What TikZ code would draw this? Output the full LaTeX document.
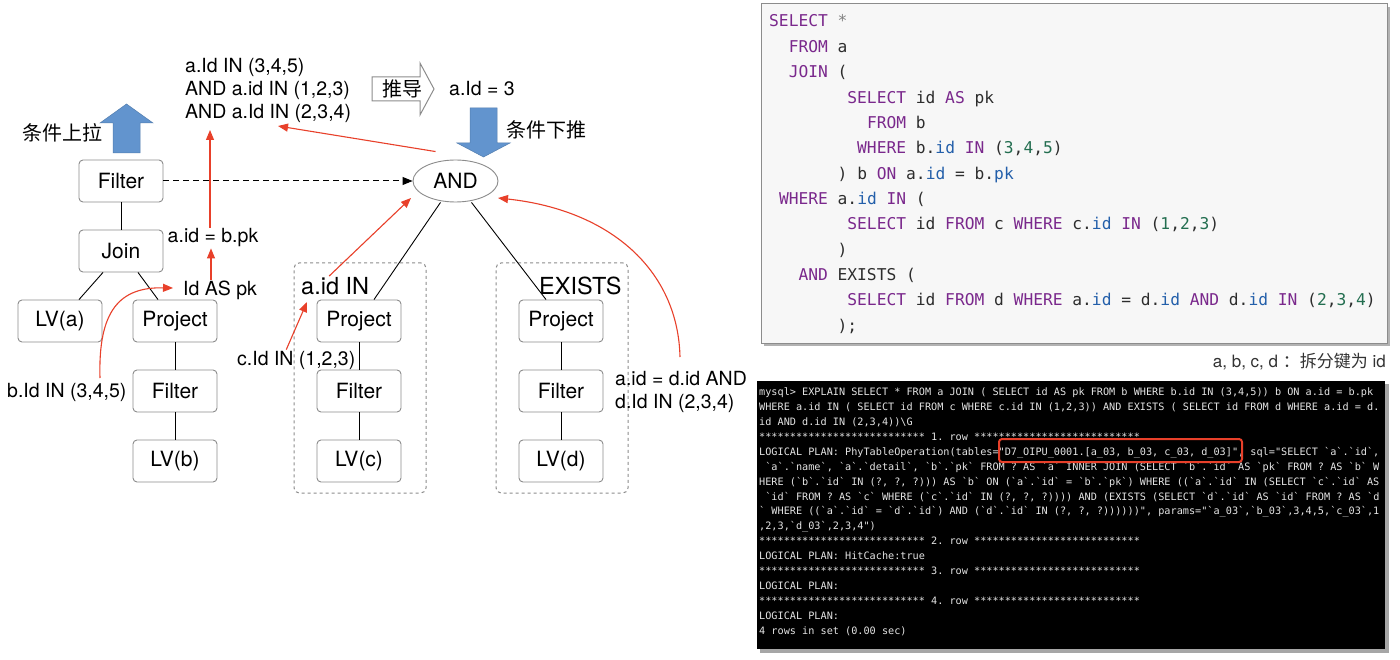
\documentclass[tikz,border=0pt]{standalone}
\usepackage{fontspec}
\setmainfont{TeX Gyre Heros}
\newfontfamily\cjk{Noto Sans CJK SC}
\newfontfamily\mono{DejaVu Sans Mono}
\usetikzlibrary{arrows.meta,shapes.geometric}
\definecolor{redc}{RGB}{232,64,42}
\definecolor{bluea}{RGB}{98,148,206}
\definecolor{boxc}{RGB}{140,140,140}
\definecolor{kwc}{RGB}{122,40,140}
\definecolor{prc}{RGB}{35,95,170}
\definecolor{numc}{RGB}{35,110,80}
\definecolor{plainc}{RGB}{45,45,45}
\definecolor{termc}{RGB}{228,228,228}
\definecolor{panelc}{RGB}{247,247,247}
\newcommand\sqlkw[1]{\textcolor{kwc}{#1}}
\newcommand\sqlpr[1]{\textcolor{prc}{#1}}
\newcommand\sqlnum[1]{\textcolor{numc}{#1}}
\frenchspacing
\tikzset{
  lbl/.style={inner sep=1pt, font=\fontsize{19.5}{23}\selectfont},
  big/.style={inner sep=1pt, font=\fontsize{23.5}{27}\selectfont},
  cjklbl/.style={inner sep=1pt, font=\cjk\fontsize{20}{24}\selectfont},
  box/.style={draw=boxc, line width=0.9pt, rounded corners=4pt, fill=white,
    minimum width=84pt, minimum height=42pt, inner sep=0pt,
    font=\fontsize{21}{25}\selectfont},
  grp/.style={draw=boxc, dashed, line width=1pt, rounded corners=5pt,
    minimum width=132pt, minimum height=230pt, inner sep=0pt},
  link/.style={draw=black, line width=0.9pt},
  redarr/.style={draw=redc, line width=1.1pt, -{Triangle[length=10pt,width=8pt]}},
  code/.style={inner sep=0pt, anchor=base west, text=plainc,
    font=\mono\fontsize{16.25}{18}\selectfont},
  term/.style={inner sep=0pt, anchor=base west, text=termc,
    font=\mono\fontsize{10.2}{12}\selectfont},
}
\begin{document}
\begin{tikzpicture}[x=1pt,y=-1pt]
\useasboundingbox (0,0) rectangle (1400,660);
\fill[white] (0,0) rectangle (1400,660);

% ---------- left plan tree ----------
\node[box] (f1) at (121,181) {Filter};
\node[box] (join) at (121,251) {Join};
\node[box] (lva) at (60,321) {LV(a)};
\node[box] (pb) at (175,321) {Project};
\node[box] (fb) at (175,391) {Filter};
\node[box] (lvb) at (175,461) {LV(b)};
\draw[link] (f1) -- (join);
\draw[link] ([xshift=-18pt]join.south) -- ([xshift=19pt]lva.north);
\draw[link] ([xshift=17pt]join.south) -- ([xshift=-17pt]pb.north);
\draw[link] (pb) -- (fb);
\draw[link] (fb) -- (lvb);

% up arrow
\filldraw[fill=bluea, draw=bluea!85!black, line width=0.5pt]
  (113,153) -- (113,123) -- (100,123) -- (126.5,104) -- (153,123) -- (140,123) -- (140,153) -- cycle;
\node[cjklbl] (up) at (63,133) {条件上拉};

% ---------- AND tree ----------
\node[ellipse, draw=boxc, line width=0.9pt, fill=white, minimum width=85pt, minimum height=42pt,
  inner sep=0pt, font=\fontsize{21}{25}\selectfont] (and) at (455.5,181) {AND};
\draw[black, dashed, line width=1pt, dash pattern=on 6pt off 4pt,
  -{Triangle[length=10pt,width=8pt]}] (f1) -- (and);

\node[grp] (gc) at (360,378) {};
\node[grp] (gd) at (562,378) {};
\node[box] (pc) at (359,321) {Project};
\node[box] (fc) at (359,391) {Filter};
\node[box] (lvc) at (359,461) {LV(c)};
\node[box] (pd) at (561,321) {Project};
\node[box] (fd) at (561,391) {Filter};
\node[box] (lvd) at (561,461) {LV(d)};
\draw[link] (pc) -- (fc);
\draw[link] (fc) -- (lvc);
\draw[link] (pd) -- (fd);
\draw[link] (fd) -- (lvd);
\draw[link] ([xshift=-15pt]and.south) -- ([xshift=15pt]pc.north);
\draw[link] ([xshift=16pt]and.south) -- ([xshift=-15pt]pd.north);
\node[big, anchor=west] (aidin) at (300,286) {a.id IN};
\node[big, anchor=west] (exists) at (538,286) {EXISTS};

% down arrow and derive arrow
\filldraw[fill=bluea, draw=bluea!85!black, line width=0.5pt]
  (470,108) -- (497,108) -- (497,143) -- (510,143) -- (483.5,157) -- (457,143) -- (470,143) -- cycle;
\node[cjklbl, anchor=west] (down) at (505,130) {条件下推};
\draw[draw=boxc, fill=white, line width=1pt]
  (372,77) -- (420,77) -- (420,63) -- (434,89) -- (420,115) -- (420,101) -- (372,101) -- cycle;
\node[cjklbl] (derive) at (402,89) {推导};
\node[lbl, anchor=west] (eq3) at (448,89) {a.Id = 3};

% ---------- labels ----------
\node[lbl, anchor=west, align=left] (cond) at (184,90)
  {a.Id IN (3,4,5)\\AND a.id IN (1,2,3)\\AND a.Id IN (2,3,4)};
\node[lbl] (aideq) at (213,238) {a.id = b.pk};
\node[lbl, anchor=west] (idas) at (182,290) {Id AS pk};
\node[lbl, anchor=west] (bid) at (6,392) {b.Id IN (3,4,5)};
\node[lbl, anchor=west] (cid) at (236,360) {c.Id IN (1,2,3)};
\node[lbl, anchor=west, align=left] (dlab) at (614,392) {a.id = d.id AND\\d.Id IN (2,3,4)};

\coordinate (tipA) at (210,130);
\coordinate (tipB) at (278,126);
\coordinate (tipC) at (411,198);
\coordinate (tipD) at (307,302);
\coordinate (tipE) at (498,198);
\coordinate (tipF) at (173,288);

% ---------- red arrows ----------
\draw[redarr] (211,280) -- ([xshift=-2pt]aideq.south);
\draw[redarr] ([xshift=-3pt]aideq.north) -- (tipA);
\draw[redarr] ([xshift=-20pt,yshift=8pt]and.north) -- (tipB);
\draw[redarr] ([xshift=-6pt]aidin.north) -- (tipC);
\draw[redarr] ([xshift=-10pt]cid.north) -- (tipD);
\draw[redarr] (680,357) .. controls (678,270) and (610,210) .. (tipE);
\draw[redarr] (100,378) .. controls (98,310) and (120,287) .. (tipF);

% ---------- SQL panel ----------
\fill[black!30] (764,7) rectangle (1390,346);
\filldraw[fill=panelc, draw=boxc, line width=1pt] (761,4) rectangle (1387,343);
\node[code] (c0) at (769,27) {\sqlkw{SELECT} \textcolor{gray}{*}};
\node[code] (c1) at (788.6,52.35) {\sqlkw{FROM} a};
\node[code] (c2) at (788.6,77.7) {\sqlkw{JOIN} (};
\node[code] (c3) at (847.2,103.05) {\sqlkw{SELECT} id \sqlkw{AS} pk};
\node[code] (c4) at (866.8,128.4) {\sqlkw{FROM} b};
\node[code] (c5) at (857,153.75) {\sqlkw{WHERE} b.\sqlpr{id} \sqlkw{IN} (\sqlnum{3},\sqlnum{4},\sqlnum{5})};
\node[code] (c6) at (837.5,179.1) {) b \sqlkw{ON} a.\sqlpr{id} = b.\sqlpr{pk}};
\node[code] (c7) at (778.8,204.45) {\sqlkw{WHERE} a.\sqlpr{id} \sqlkw{IN} (};
\node[code] (c8) at (847.2,229.8) {\sqlkw{SELECT} id \sqlkw{FROM} c \sqlkw{WHERE} c.\sqlpr{id} \sqlkw{IN} (\sqlnum{1},\sqlnum{2},\sqlnum{3})};
\node[code] (c9) at (837.5,255.15) {)};
\node[code] (c10) at (798.3,280.5) {\sqlkw{AND} EXISTS (};
\node[code] (c11) at (847.2,305.85) {\sqlkw{SELECT} id \sqlkw{FROM} d \sqlkw{WHERE} a.\sqlpr{id} = d.\sqlpr{id} \sqlkw{AND} d.\sqlpr{id} \sqlkw{IN} (\sqlnum{2},\sqlnum{3},\sqlnum{4})};
\node[code] (c12) at (837.5,331.2) {);};
\node[inner sep=0pt, anchor=east, text=black!80, font=\fontsize{17}{20}\selectfont] (cap) at (1386,362)
  {a, b, c, d {\cjk ：拆分键为} id};

% ---------- terminal ----------
\fill[black!35] (760,384) rectangle (1389,653);
\fill[black] (757,381) rectangle (1385,649);
\node[term] (t1) at (759,395.7) {mysql> EXPLAIN SELECT * FROM a JOIN ( SELECT id AS pk FROM b WHERE b.id IN (3,4,5)) b ON a.id = b.pk};
\node[term] (t2) at (759,410.6) {WHERE a.id IN ( SELECT id FROM c WHERE c.id IN (1,2,3)) AND EXISTS ( SELECT id FROM d WHERE a.id = d.};
\node[term] (t3) at (759,425.5) {id AND d.id IN (2,3,4))\textbackslash G};
\node[term] (t4) at (759,440.4) {*************************** 1. row ***************************};
\node[term] (t5) at (759,455.3) {LOGICAL PLAN: PhyTableOperation(tables="D7\_OIPU\_0001.[a\_03, b\_03, c\_03, d\_03]", sql="SELECT `a`.`id`,};
\node[term] (t6) at (759,470.2) {~`a`.`name`, `a`.`detail`, `b`.`pk` FROM ? AS `a` INNER JOIN (SELECT `b`.`id` AS `pk` FROM ? AS `b` W};
\node[term] (t7) at (759,485.1) {HERE (`b`.`id` IN (?, ?, ?))) AS `b` ON (`a`.`id` = `b`.`pk`) WHERE ((`a`.`id` IN (SELECT `c`.`id` AS};
\node[term] (t8) at (759,500) {~`id` FROM ? AS `c` WHERE (`c`.`id` IN (?, ?, ?)))) AND (EXISTS (SELECT `d`.`id` AS `id` FROM ? AS `d};
\node[term] (t9) at (759,514.9) {` WHERE ((`a`.`id` = `d`.`id`) AND (`d`.`id` IN (?, ?, ?))))))", params="`a\_03`,`b\_03`,3,4,5,`c\_03`,1};
\node[term] (t10) at (759,529.8) {,2,3,`d\_03`,2,3,4")};
\node[term] (t11) at (759,544.7) {*************************** 2. row ***************************};
\node[term] (t12) at (759,559.6) {LOGICAL PLAN: HitCache:true};
\node[term] (t13) at (759,574.5) {*************************** 3. row ***************************};
\node[term] (t14) at (759,589.4) {LOGICAL PLAN:};
\node[term] (t15) at (759,604.3) {*************************** 4. row ***************************};
\node[term] (t16) at (759,619.2) {LOGICAL PLAN:};
\node[term] (t17) at (759,634.1) {4 rows in set (0.00 sec)};
\draw[redc, line width=2pt, rounded corners=3pt] (999,439) rectangle (1242,462);
\end{tikzpicture}
\end{document}
